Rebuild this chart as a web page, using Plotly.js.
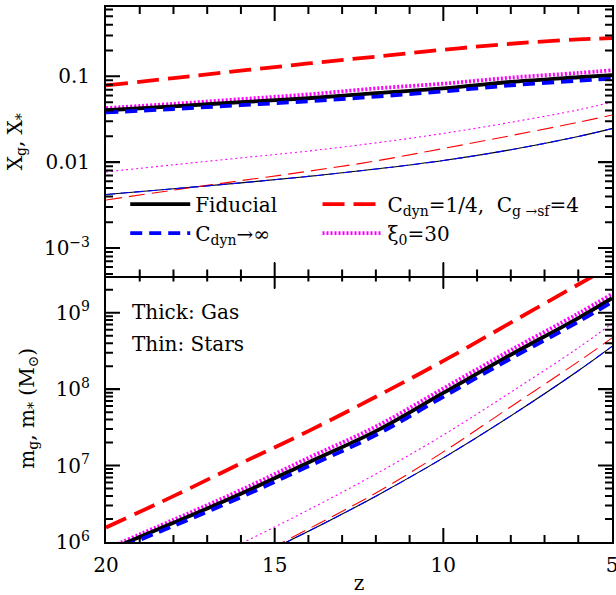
<!DOCTYPE html>
<html>
<head>
<meta charset="utf-8">
<script src="https://cdn.plot.ly/plotly-3.0.1.min.js"></script>
<style>html,body{margin:0;padding:0;background:#fff;}#chart{width:616px;height:595px;}</style>
</head>
<body>
<div id="chart"></div>
<script>
// redshift samples
var z = [20, 18, 16, 14, 12, 10, 8, 6, 5];

// Top panel: mass fractions X_g (thick, gas) and X_* (thin, stars)
var XgFiducial = [0.0403, 0.0447, 0.0501, 0.0556, 0.0638, 0.0724, 0.0861, 0.0977, 0.1035];
var XgCdynInf  = [0.0380, 0.0417, 0.0462, 0.0513, 0.0582, 0.0668, 0.0785, 0.0891, 0.0940];
var XgCdynQ    = [0.0785, 0.0955, 0.1164, 0.1413, 0.1698, 0.2042, 0.2399, 0.2692, 0.2786];
var XgXi30     = [0.0427, 0.0479, 0.0543, 0.0617, 0.0724, 0.0822, 0.0966, 0.1096, 0.1175];
var XsFiducial = [0.00421, 0.00490, 0.00575, 0.00684, 0.00832, 0.01047, 0.01396, 0.01995, 0.02466];
var XsCdynInf  = [0.00421, 0.00490, 0.00575, 0.00684, 0.00832, 0.01047, 0.01396, 0.01995, 0.02466];
var XsCdynQ    = [0.00363, 0.00473, 0.00610, 0.00785, 0.01035, 0.01445, 0.02042, 0.02917, 0.03548];
var XsXi30     = [0.00771, 0.00933, 0.01122, 0.01349, 0.01679, 0.02163, 0.02917, 0.04074, 0.05012];

// Bottom panel: masses m_g (thick) and m_* (thin), in solar masses
var mgFiducial = [7.59e5, 1.78e6, 4.27e6, 1.10e7, 2.82e7, 8.91e7, 2.82e8, 8.51e8, 1.55e9];
var mgCdynInf  = [7.08e5, 1.62e6, 3.85e6, 9.77e6, 2.51e7, 7.94e7, 2.51e8, 7.59e8, 1.38e9];
var mgCdynQ    = [1.55e6, 3.98e6, 1.07e7, 2.82e7, 7.94e7, 2.34e8, 7.41e8, 2.34e9, 4.17e9];
var mgXi30     = [8.13e5, 1.95e6, 4.79e6, 1.26e7, 3.24e7, 1.02e8, 3.24e8, 9.77e8, 1.76e9];
var msFiducial = [7.94e4, 1.95e5, 5.13e5, 1.38e6, 3.98e6, 1.26e7, 4.47e7, 1.74e8, 3.63e8];
var msCdynInf  = [7.94e4, 1.95e5, 5.13e5, 1.38e6, 3.98e6, 1.26e7, 4.47e7, 1.74e8, 3.63e8];
var msCdynQ    = [6.92e4, 1.91e5, 5.25e5, 1.48e6, 4.37e6, 1.51e7, 5.89e7, 2.29e8, 4.68e8];
var msXi30     = [1.45e5, 3.72e5, 9.55e5, 2.63e6, 7.76e6, 2.51e7, 9.12e7, 3.47e8, 7.24e8];

// legend labels
var labFid = 'Fiducial';
var labInf = 'C<sub>dyn</sub>\u2192\u221e';
var labQ   = 'C<sub>dyn</sub>=1/4,  C<sub>g \u2192sf</sub>=4';
var labXi  = '\u03be<sub>0</sub>=30';

// tick labels
var topTickVals = [0.001, 0.01, 0.1];
var topTickText = ['10<sup>\u22123</sup>', '0.01', '0.1'];
var botTickVals = [1e6, 1e7, 1e8, 1e9];
var botTickText = ['10<sup>6</sup>', '10<sup>7</sup>', '10<sup>8</sup>', '10<sup>9</sup>'];
var xTickVals = [20, 15, 10, 5];

var FONT = 'DejaVu Serif';
var W = 616, H = 595, ML = 106, MR = 4, MT = 7, MB = 53;
var xRange = [20, 5];
var topRange = [-3.331, -0.192];   // log10 units
var botRange = [6, 9.5];           // log10 units
var topDomain = [0.4963, 1];
var botDomain = [0, 0.5];

var styles = {
  fid: {color: '#000000', dashThick: 'solid', dashThin: 'solid'},
  inf: {color: '#0000ff', dashThick: '12px,7px', dashThin: '9px,5px'},
  q:   {color: '#ff0000', dashThick: '22px,9px', dashThin: '16px,7px'},
  xi:  {color: '#ff00ff', dashThick: '2px,2px', dashThin: '2px,3px'}
};

function tr(y, xa, ya, st, thick, name, legend, show, rank) {
  return {
    x: z, y: y, xaxis: xa, yaxis: ya, type: 'scatter', mode: 'lines',
    name: name, showlegend: show, legend: legend, legendrank: rank,
    hoverinfo: 'skip',
    line: {color: st.color, width: thick ? 3.8 : 1.1,
           dash: thick ? st.dashThick : st.dashThin, shape: 'spline', smoothing: 1}
  };
}

// ---- inside minor/major tick marks on all four sides of each panel (through the axes) ----
var MAJ = 14, MIN = 7;
var plotW = W - ML - MR, plotH = H - MT - MB;
function tickTrace(xa, ya, yr, dom) {
  var pxPerZ = plotW / Math.abs(xRange[0] - xRange[1]);
  var pxPerDec = plotH * (dom[1] - dom[0]) / (yr[1] - yr[0]);
  var xs = [], ys = [];
  var xlo = Math.max(xRange[0], xRange[1]), xhi = Math.min(xRange[0], xRange[1]);
  for (var v = xhi + 1; v < xlo; v++) {
    var dl = ((v % 5 === 0) ? MAJ : MIN) / pxPerDec;
    xs.push(v, v, null, v, v, null);
    ys.push(Math.pow(10, yr[0]), Math.pow(10, yr[0] + dl), null,
            Math.pow(10, yr[1]), Math.pow(10, yr[1] - dl), null);
  }
  for (var d = Math.floor(yr[0]); d <= Math.ceil(yr[1]); d++) {
    for (var k = 1; k <= 9; k++) {
      var lv = d + Math.log10(k);
      if (lv <= yr[0] + 0.01 || lv >= yr[1] - 0.01) continue;
      var dz = ((k === 1) ? MAJ : MIN) / pxPerZ;
      var yv = Math.pow(10, lv);
      xs.push(xlo, xlo - dz, null, xhi, xhi + dz, null);
      ys.push(yv, yv, null, yv, yv, null);
    }
  }
  return {x: xs, y: ys, xaxis: xa, yaxis: ya, type: 'scatter', mode: 'lines',
          showlegend: false, hoverinfo: 'skip', connectgaps: false,
          line: {color: '#000000', width: 2, simplify: false}};
}

var data = [
  // top panel
  tr(XsFiducial, 'x2', 'y2', styles.fid, false, labFid, 'legend', false),
  tr(XsCdynQ,    'x2', 'y2', styles.q,   false, labQ,   'legend', false),
  tr(XsXi30,     'x2', 'y2', styles.xi,  false, labXi,  'legend', false),
  tr(XsCdynInf,  'x2', 'y2', styles.inf, false, labInf, 'legend', false),
  tr(XgCdynQ,    'x2', 'y2', styles.q,   true,  labQ,   'legend2', true, 1),
  tr(XgXi30,     'x2', 'y2', styles.xi,  true,  labXi,  'legend2', true, 2),
  tr(XgFiducial, 'x2', 'y2', styles.fid, true,  labFid, 'legend', true, 1),
  tr(XgCdynInf,  'x2', 'y2', styles.inf, true,  labInf, 'legend', true, 2),
  // bottom panel
  tr(msFiducial, 'x', 'y', styles.fid, false, labFid, 'legend', false),
  tr(msCdynQ,    'x', 'y', styles.q,   false, labQ,   'legend', false),
  tr(msXi30,     'x', 'y', styles.xi,  false, labXi,  'legend', false),
  tr(msCdynInf,  'x', 'y', styles.inf, false, labInf, 'legend', false),
  tr(mgCdynQ,    'x', 'y', styles.q,   true,  labQ,   'legend', false),
  tr(mgXi30,     'x', 'y', styles.xi,  true,  labXi,  'legend', false),
  tr(mgFiducial, 'x', 'y', styles.fid, true,  labFid, 'legend', false),
  tr(mgCdynInf,  'x', 'y', styles.inf, true,  labInf, 'legend', false),
  // tick marks
  tickTrace('x', 'y', botRange, botDomain),
  tickTrace('x2', 'y2', topRange, topDomain)
];

var axCommon = {
  showline: true, linewidth: 2, linecolor: '#000000', mirror: 'allticks',
  ticks: 'inside', ticklen: MAJ, tickwidth: 1.5, tickcolor: '#000000',
  zeroline: false, showgrid: false,
  ticklabeloverflow: 'allow',
  tickfont: {family: FONT, size: 20, color: '#000'}
};

var layout = {
  width: W, height: H,
  margin: {l: ML, r: MR, t: MT, b: MB},
  paper_bgcolor: '#fff', plot_bgcolor: '#fff',
  font: {family: FONT, size: 20, color: '#000'},
  showlegend: true,
  xaxis: Object.assign({}, axCommon, {anchor: 'y', domain: [0, 1], range: xRange,
    tickmode: 'array', tickvals: xTickVals, ticklabelstandoff: 4,
    title: {text: 'z', font: {family: FONT, size: 20}, standoff: 6}}),
  xaxis2: Object.assign({}, axCommon, {anchor: 'y2', domain: [0, 1], range: xRange,
    tickmode: 'array', tickvals: xTickVals, showticklabels: false}),
  yaxis: Object.assign({}, axCommon, {anchor: 'x', domain: botDomain, type: 'log', range: botRange,
    tickmode: 'array', tickvals: botTickVals, ticktext: botTickText, ticklabelstandoff: 10,
    title: {text: 'm<sub>g</sub>, m<sub>*</sub> (M<sub>\u2299</sub>)', font: {family: FONT, size: 20}, standoff: 16}}),
  yaxis2: Object.assign({}, axCommon, {anchor: 'x2', domain: topDomain, type: 'log', range: topRange,
    tickmode: 'array', tickvals: topTickVals, ticktext: topTickText, ticklabelstandoff: 10,
    title: {text: 'X<sub>g</sub>, X<sub>*</sub>', font: {family: FONT, size: 20}, standoff: 16}}),
  legend: {x: 0.038, y: 0.668, xanchor: 'left', yanchor: 'top', orientation: 'v',
    bgcolor: 'rgba(0,0,0,0)', borderwidth: 0, itemwidth: 60, tracegroupgap: 0,
    font: {family: FONT, size: 20, color: '#000'}},
  legend2: {x: 0.418, y: 0.668, xanchor: 'left', yanchor: 'top', orientation: 'v',
    bgcolor: 'rgba(0,0,0,0)', borderwidth: 0, itemwidth: 60, tracegroupgap: 0,
    font: {family: FONT, size: 20, color: '#000'}},
  annotations: [
    {xref: 'paper', yref: 'paper', x: 0.048, y: 0.43, xanchor: 'left', yanchor: 'middle',
     text: 'Thick: Gas', showarrow: false, font: {family: FONT, size: 20, color: '#000'}},
    {xref: 'paper', yref: 'paper', x: 0.048, y: 0.37, xanchor: 'left', yanchor: 'middle',
     text: 'Thin: Stars', showarrow: false, font: {family: FONT, size: 20, color: '#000'}}
  ]
};

Plotly.newPlot('chart', data, layout, {displayModeBar: false, staticPlot: true});
</script>
</body>
</html>
